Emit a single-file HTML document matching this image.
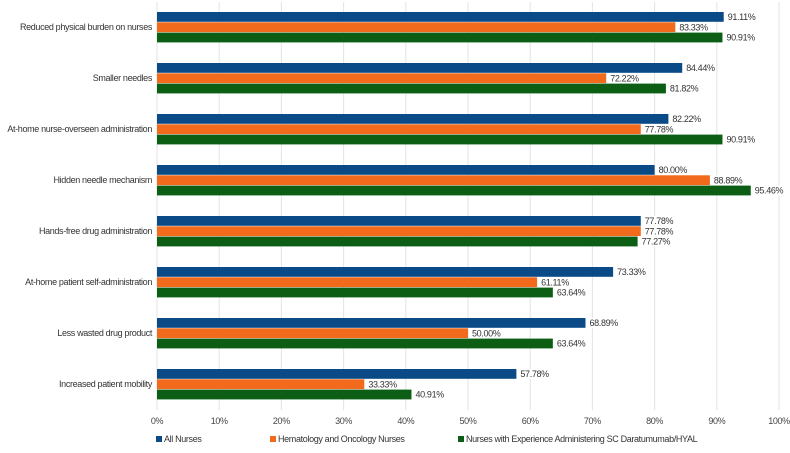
<!DOCTYPE html>
<html><head><meta charset="utf-8"><style>
body{margin:0;background:#fff;}
svg{font-family:"Liberation Sans",sans-serif;}
svg text{letter-spacing:-0.35px;}
</style></head><body>
<svg id="chart" width="790" height="448"></svg>
<script>
const categories=["Reduced physical burden on nurses","Smaller needles","At-home nurse-overseen administration","Hidden needle mechanism","Hands-free drug administration","At-home patient self-administration","Less wasted drug product","Increased patient mobility"];
const allNurses=[91.11,84.44,82.22,80.00,77.78,73.33,68.89,57.78];
const hemOnc=[83.33,72.22,77.78,88.89,77.78,61.11,50.00,33.33];
const experienced=[90.91,81.82,90.91,95.46,77.27,63.64,63.64,40.91];
const ticks=[0,10,20,30,40,50,60,70,80,90,100];
const seriesNames=["All Nurses","Hematology and Oncology Nurses","Nurses with Experience Administering SC Daratumumab/HYAL"];
const colors=["#0a4a86","#f26a1b","#0b5e14"];
const NS="http://www.w3.org/2000/svg";
const svg=document.getElementById('chart');
const x0=157,x1=779,top0=5,gh=51,bh=10.3;
const xs=v=>x0+(x1-x0)*v/100;
function mk(t,a,txt){const e=document.createElementNS(NS,t);for(const k in a)e.setAttribute(k,a[k]);if(txt!=null)e.textContent=txt;svg.appendChild(e);return e;}
ticks.forEach(t=>{
 const g=mk('line',{x1:xs(t),x2:xs(t),y1:2,y2:410,stroke:'#e3e3e3','stroke-width':1});
 
 
 const l=mk('text',{x:xs(t),y:424,'font-size':9,'text-anchor':'middle',fill:'#444'},t+'%');
 
 
});
const series=[allNurses,hemOnc,experienced];
categories.forEach((c,i)=>{
 const gy=top0+i*gh;
 const cl=mk('text',{x:152,y:gy+25,'font-size':9,'text-anchor':'end',fill:'#333'},c);
 
 
 series.forEach((s,j)=>{
  const y=gy+7+j*bh;
  const r=mk('rect',{x:x0,y:y,width:xs(s[i])-x0,height:bh-0.5,fill:colors[j]});
  
  
  const bg=mk('rect',{x:xs(s[i])+1,y:y,width:32,height:bh-0.5,fill:'#fff'});
  
  
  const v=mk('text',{x:xs(s[i])+4,y:y+8,'font-size':9,fill:'#333'},s[i].toFixed(2)+'%');
  
  
 });
});
const lx=[156,270,458];
seriesNames.forEach((n,j)=>{
 const r=mk('rect',{x:lx[j],y:436,width:6,height:6,fill:colors[j]});
 
 
 const t=mk('text',{x:lx[j]+8,y:442,'font-size':9,fill:'#333'},n);
 
 
});
</script>
</body></html>
